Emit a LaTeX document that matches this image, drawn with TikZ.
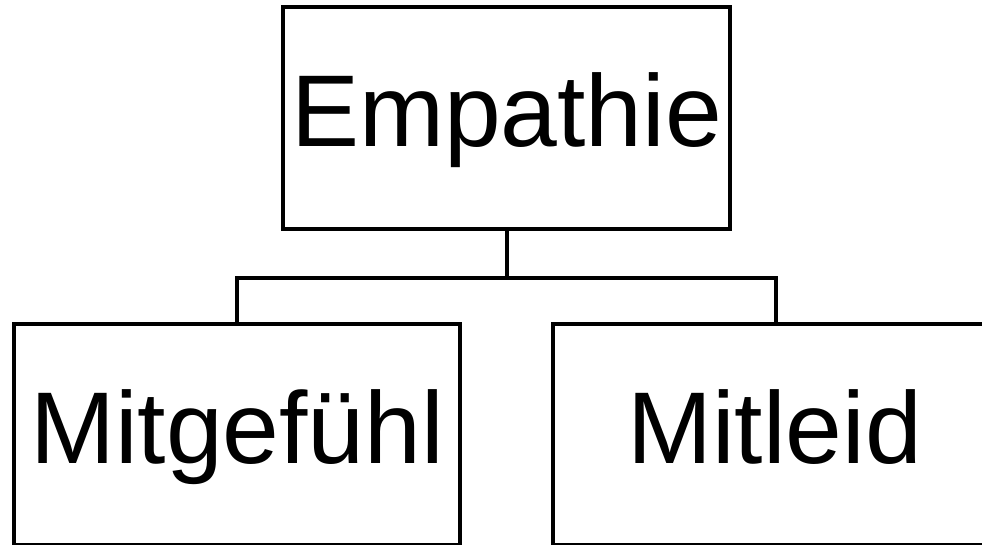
\documentclass[tikz,border=0pt]{standalone}
\usepackage{fontspec}
\setmainfont{Liberation Sans}
\begin{document}
\begin{tikzpicture}[x=1pt,y=-1pt,
  box/.style={draw=black, line width=4pt, inner sep=0pt, text height=58pt, text depth=0pt,
    font=\fontsize{102pt}{122pt}\selectfont},
  link/.style={draw=black, line width=4pt}]
\useasboundingbox (0,0) rectangle (982,545);
\node[box, minimum width=447pt, minimum height=222pt] (top) at (506.5,118) {Empathie};
\node[box, minimum width=446pt, minimum height=221pt] (left) at (237,434.5) {Mitgefühl};
\node[box, minimum width=446pt, minimum height=221pt] (right) at (776,434.5) {\hspace*{-3pt}Mitleid};
\draw[link] (top.south) -- ++(0,47) coordinate (mid);
\draw[link] (mid) -| (left.north);
\draw[link] (mid) -| (right.north);
\end{tikzpicture}
\end{document}
